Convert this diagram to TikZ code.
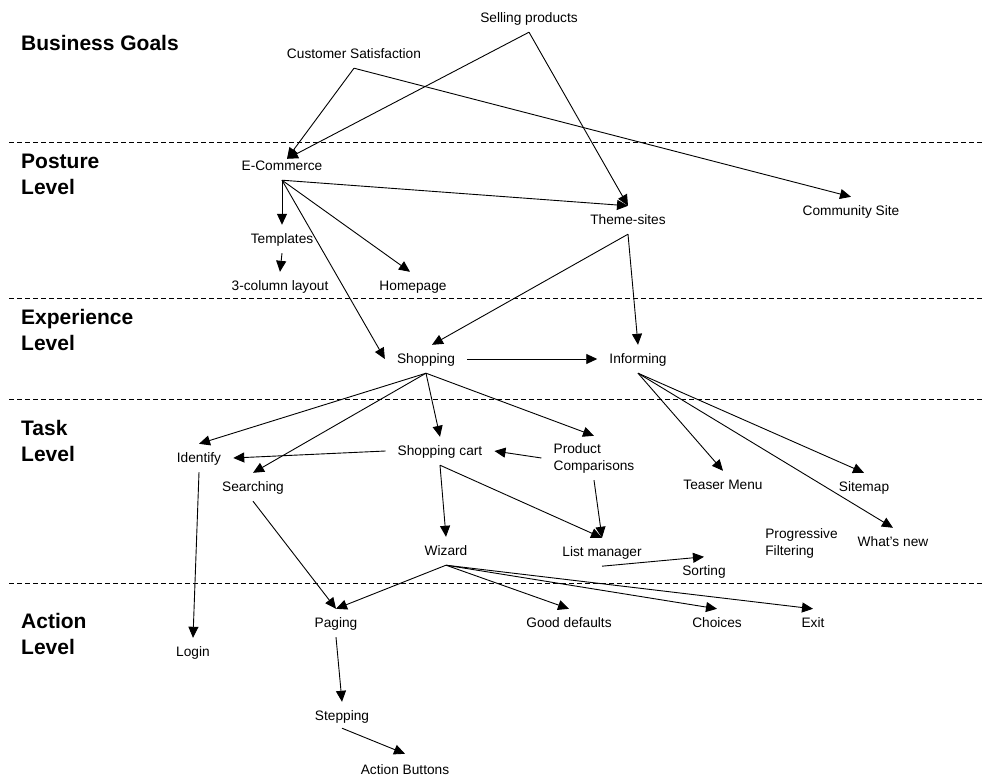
\documentclass[tikz,border=0pt]{standalone}
\usepackage{fontspec}
\setmainfont{Liberation Sans}
\usetikzlibrary{arrows.meta}
\tikzset{
  lbl/.style={font=\fontsize{13.7}{17}\selectfont, inner xsep=12pt, inner ysep=0pt,
              minimum height=28pt, text height=12pt, text depth=3pt},
  lbltwo/.style={font=\fontsize{13.7}{17}\selectfont, align=left, inner xsep=12pt,
                 inner ysep=0pt, minimum height=44pt},
  lvl/.style={font=\fontsize{21}{26}\selectfont\bfseries, align=left, anchor=west, inner sep=0pt},
  arr/.style={-{Triangle[length=11pt,width=10pt]}, line width=0.9pt},
  sep/.style={line width=0.8pt, dash pattern=on 5pt off 3pt},
}

\begin{document}
\begin{tikzpicture}[x=1pt,y=-1pt]
  \useasboundingbox (0,0) rectangle (983,778);

  % level separators
  \foreach \yy in {142,298,399,583}
    \draw[sep] (9,\yy) -- (983,\yy);

  % level titles
  \node[lvl] (tbiz) at (21,43) {Business Goals};
  \node[lvl] (tpos) at (21,174.5) {Posture\\Level};
  \node[lvl] (texp) at (21,330) {Experience\\Level};
  \node[lvl] (ttask) at (21,441) {Task\\Level};
  \node[lvl] (tact) at (21,634) {Action\\Level};

  % business goals
  \node[lbl] (sell) at (529,18) {Selling products};
  \node[lbl] (cust) at (354,54) {Customer Satisfaction};

  % posture level
  \node[lbl] (ecom) at (282,166) {E-Commerce};
  \node[lbl] (theme) at (628,220) {Theme-sites};
  \node[lbl] (comm) at (851,211) {Community Site};
  \node[lbl] (templ) at (282,239) {Templates};
  \node[lbl] (col3) at (280,286) {3-column layout};
  \node[lbl] (home) at (413,286) {Homepage};

  % experience level
  \node[lbl] (shop) at (426,359) {Shopping};
  \node[lbl] (inform) at (638,359) {Informing};

  % task level
  \node[lbl] (ident) at (199,458) {Identify};
  \node[lbl] (search) at (253,487) {Searching};
  \node[lbl] (cart) at (440,451) {Shopping cart};
  \node[lbltwo] (comp) at (594,458) {Product\\Comparisons};
  \node[lbl] (wiz) at (446,551) {Wizard};
  \node[lbl] (listm) at (602,552) {List manager};
  \node[lbl] (sort) at (704,571) {Sorting};
  \node[lbl] (teaser) at (723,485) {Teaser Menu};
  \node[lbl] (smap) at (864,487) {Sitemap};
  \node[lbltwo] (filt) at (801.5,543.5) {Progressive\\Filtering};
  \node[lbl] (wnew) at (893,542) {What’s new};

  % action level
  \node[lbl] (paging) at (336,623) {Paging};
  \node[lbl] (login) at (193,652) {Login};
  \node[lbl] (stepg) at (342,716) {Stepping};
  \node[lbl] (abtn) at (405,770) {Action Buttons};
  \node[lbl] (gdef) at (569,623) {Good defaults};
  \node[lbl] (choice) at (717,623) {Choices};
  \node[lbl] (exitn) at (813,623) {Exit};

  % connectors
  \draw[arr] (cust.south) -- ([shift={(5pt,-7pt)}]ecom.north);
  \draw[arr] (cust.south) -- (comm.north);
  \draw[arr] (sell.south) -- ([shift={(5pt,-7pt)}]ecom.north);
  \draw[arr] (sell.south) -- (theme.north);
  \draw[arr] (ecom.south) -- (theme.north);
  \draw[arr] (ecom.south) -- (templ.north);
  \draw[arr] (ecom.south) -- ([xshift=-3pt]home.north);
  \draw[arr] (ecom.south) -- (shop.west);
  \draw[arr] (templ.south) -- (col3.north);
  \draw[arr] (theme.south) -- ([xshift=6pt]shop.north);
  \draw[arr] (theme.south) -- (inform.north);
  \draw[arr] (shop.east) -- (inform.west);
  \draw[arr] (shop.south) -- (ident.north);
  \draw[arr] (shop.south) -- (search.north);
  \draw[arr] (shop.south) -- (cart.north);
  \draw[arr] (shop.south) -- (comp.north);
  \draw[arr] (cart.west) -- (ident.east);
  \draw[arr] (comp.west) -- (cart.east);
  \draw[arr] (cart.south) -- (wiz.north);
  \draw[arr] (cart.south) -- (listm.north);
  \draw[arr] (comp.south) -- (listm.north);
  \draw[arr] (listm.south) -- (sort.north);
  \draw[arr] (inform.south) -- (teaser.north);
  \draw[arr] (inform.south) -- (smap.north);
  \draw[arr] (inform.south) -- (wnew.north);
  \draw[arr] (ident.south) -- (login.north);
  \draw[arr] (search.south) -- (paging.north);
  \draw[arr] (wiz.south) -- (paging.north);
  \draw[arr] (wiz.south) -- (gdef.north);
  \draw[arr] (wiz.south) -- (choice.north);
  \draw[arr] (wiz.south) -- (exitn.north);
  \draw[arr] (paging.south) -- (stepg.north);
  \draw[arr] ([yshift=2pt]stepg.south) -- ([yshift=2pt]abtn.north);
\end{tikzpicture}
\end{document}
